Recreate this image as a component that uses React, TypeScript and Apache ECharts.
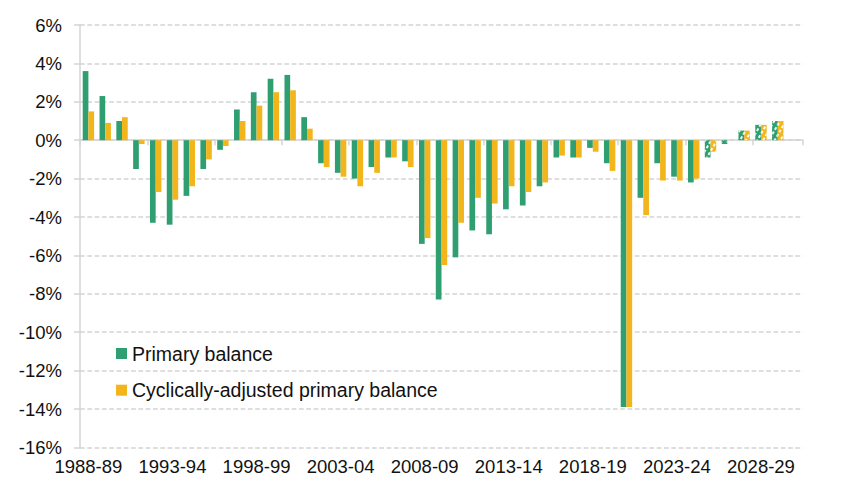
import React, { useEffect, useRef } from "react";
import * as echarts from "echarts";

const categories = [
  "1988-89", "1989-90", "1990-91", "1991-92", "1992-93", "1993-94", "1994-95", "1995-96",
  "1996-97", "1997-98", "1998-99", "1999-00", "2000-01", "2001-02", "2002-03", "2003-04",
  "2004-05", "2005-06", "2006-07", "2007-08", "2008-09", "2009-10", "2010-11", "2011-12",
  "2012-13", "2013-14", "2014-15", "2015-16", "2016-17", "2017-18", "2018-19", "2019-20",
  "2020-21", "2021-22", "2022-23", "2023-24", "2024-25", "2025-26", "2026-27", "2027-28",
  "2028-29", "2029-30", "2030-31",
];

const primaryBalance = [
  3.6, 2.3, 1.0, -1.5, -4.3, -4.4, -2.9, -1.5, -0.5, 1.6, 2.5, 3.2, 3.4, 1.2, -1.2, -1.7,
  -2.0, -1.4, -0.9, -1.1, -5.4, -8.3, -6.1, -4.7, -4.9, -3.6, -3.4, -2.4, -0.9, -0.9, -0.4,
  -1.2, -13.9, -3.0, -1.2, -1.9, -2.2, -0.9, -0.2, 0.5, 0.8, 1.0, null,
];

const cyclicallyAdjusted = [
  1.5, 0.9, 1.2, -0.2, -2.7, -3.1, -2.4, -1.0, -0.3, 1.0, 1.8, 2.5, 2.6, 0.6, -1.4, -1.9,
  -2.4, -1.7, -0.9, -1.4, -5.1, -6.5, -4.3, -3.0, -3.3, -2.4, -2.7, -2.2, -0.8, -0.9, -0.6,
  -1.6, -13.9, -3.9, -2.1, -2.1, -2.0, -0.6, 0.0, 0.5, 0.8, 1.0, null,
];

const forecastFrom = "2025-26";
const yTicks = { min: -16, max: 6, interval: 2 };

const GREEN = "#2f9e70";
const YELLOW = "#f2b51b";
const FONT = "'Liberation Sans', Arial, sans-serif";

export default function App() {
  const ref = useRef<HTMLDivElement>(null);

  useEffect(() => {
    if (!ref.current) return;
    const chart = echarts.init(ref.current, undefined, { renderer: "svg" });
    const fIdx = categories.indexOf(forecastFrom);
    const decal = {
      symbol: "rect",
      symbolSize: 1,
      color: "rgba(255,255,255,0.92)",
      dashArrayX: [[3, 1.5]],
      dashArrayY: [1.4, 2.4],
      rotation: -Math.PI / 3,
    };
    const mk = (vals: (number | null)[], color: string) =>
      vals.map((v, i) =>
        i >= fIdx && v !== null
          ? { value: v, itemStyle: { color, decal: { ...decal, backgroundColor: color } } }
          : v
      );

    chart.setOption({
      animation: false,
      grid: { left: 80, right: 45, top: 25, bottom: 53.6, containLabel: false },
      legend: {
        orient: "vertical",
        left: 116,
        top: 343,
        padding: 0,
        icon: "rect",
        itemWidth: 11,
        itemHeight: 11,
        itemGap: 15.7,
        textStyle: { fontFamily: FONT, fontSize: 19.5, color: "#111", lineHeight: 21 },
        data: ["Primary balance", "Cyclically-adjusted primary balance"],
      },
      xAxis: [
        {
          type: "category",
          data: categories,
          position: "bottom",
          axisLine: { show: false, onZero: false },
          axisTick: { show: false },
          axisLabel: {
            interval: 4,
            margin: 10,
            fontFamily: FONT,
            fontSize: 18.5,
            color: "#111",
          },
        },
        {
          type: "category",
          data: categories,
          position: "bottom",
          axisLine: { show: true, onZero: true, lineStyle: { color: "#d4d4d4", width: 1.5 } },
          axisTick: { show: true, length: 5, lineStyle: { color: "#d4d4d4", width: 1.5 } },
          axisLabel: { show: false },
        },
      ],
      yAxis: {
        type: "value",
        min: yTicks.min,
        max: yTicks.max,
        interval: yTicks.interval,
        axisLine: { show: true, lineStyle: { color: "#d4d4d4", width: 1.5 } },
        axisTick: { show: true, length: 6, lineStyle: { color: "#d4d4d4", width: 1.5 } },
        axisLabel: {
          formatter: "{value}%",
          margin: 18,
          fontFamily: FONT,
          fontSize: 18.5,
          color: "#111",
        },
        splitLine: {
          show: true,
          lineStyle: { color: "#d4d4d4", width: 1.5, type: [4.7, 2.6] },
        },
      },
      series: [
        {
          name: "Primary balance",
          type: "bar",
          xAxisIndex: 0,
          barWidth: 5.7,
          barGap: "0%",
          itemStyle: { color: GREEN },
          data: mk(primaryBalance, GREEN),
        },
        {
          name: "Cyclically-adjusted primary balance",
          type: "bar",
          xAxisIndex: 0,
          barWidth: 5.7,
          barGap: "0%",
          itemStyle: { color: YELLOW },
          data: mk(cyclicallyAdjusted, YELLOW),
        },
      ],
    });
    return () => chart.dispose();
  }, []);

  return (
    <div
      ref={ref}
      style={{ position: "absolute", left: 0, top: 0, width: 848, height: 501, background: "#fff" }}
    />
  );
}
